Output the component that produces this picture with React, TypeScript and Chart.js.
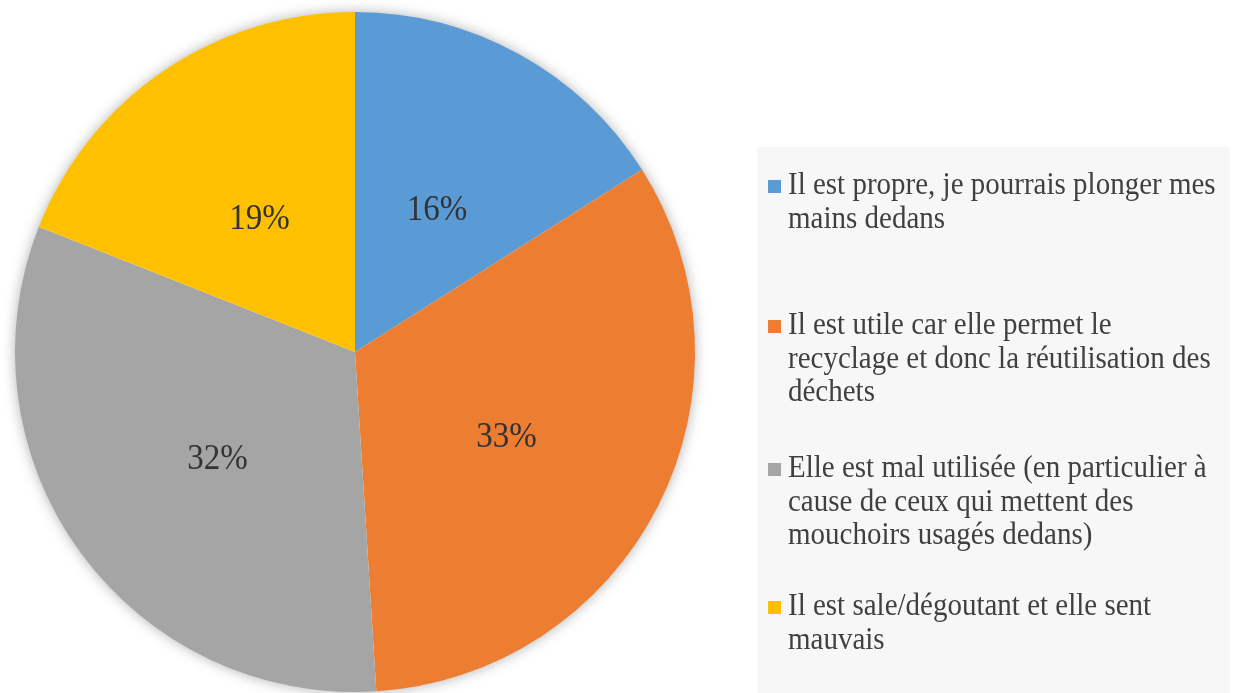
import React, { useEffect, useRef } from "react";
import { Chart, registerables } from "chart.js";

Chart.register(...registerables);

const categories: string[][] = [
  ["Il est propre, je pourrais plonger mes", "mains dedans"],
  ["Il est utile car elle permet le", "recyclage et donc la réutilisation des", "déchets"],
  ["Elle est mal utilisée (en particulier à", "cause de ceux qui mettent des", "mouchoirs usagés dedans)"],
  ["Il est sale/dégoutant et elle sent", "mauvais"],
];
const values: number[] = [16, 33, 32, 19];
const colors: string[] = ["#5B9BD5", "#ED7D31", "#A5A5A5", "#FFC000"];

const FONT = "'Liberation Serif', 'Times New Roman', serif";

const shadowPlugin = {
  id: "pieShadow",
  beforeDatasetsDraw(chart: any) {
    const meta = chart.getDatasetMeta(0);
    const arc = meta.data[0];
    if (!arc) return;
    const { x, y, outerRadius } = arc.getProps(["x", "y", "outerRadius"], true);
    const ctx = chart.ctx;
    ctx.save();
    ctx.shadowColor = "rgba(0,0,0,0.35)";
    ctx.shadowBlur = 14;
    ctx.fillStyle = "#ffffff";
    ctx.beginPath();
    ctx.arc(x, y, outerRadius - 1, 0, Math.PI * 2);
    ctx.fill();
    ctx.restore();
  },
};

const labelPlugin = {
  id: "pieLabels",
  afterDatasetsDraw(chart: any) {
    const ctx = chart.ctx;
    const meta = chart.getDatasetMeta(0);
    const data = chart.data.datasets[0].data as number[];
    ctx.save();
    ctx.font = `33px ${FONT}`;
    ctx.fillStyle = "#333333";
    ctx.textAlign = "center";
    ctx.textBaseline = "middle";
    meta.data.forEach((el: any, i: number) => {
      const p = el.tooltipPosition();
      ctx.save();
      ctx.translate(p.x, p.y + 8);
      ctx.scale(1, 1.08);
      ctx.fillText(`${data[i]}%`, 0, 0);
      ctx.restore();
    });
    ctx.restore();
  },
};

const legendPlugin = {
  id: "sideLegend",
  afterDraw(chart: any) {
    const ctx = chart.ctx;
    ctx.save();
    ctx.fillStyle = "#f7f7f7";
    ctx.fillRect(757, 147, 473, 546);
    ctx.font = `29px ${FONT}`;
    ctx.textBaseline = "middle";
    ctx.textAlign = "left";
    const lineH = 33.5;
    const starts = [186, 326, 469, 607];
    categories.forEach((lines, i) => {
      const y0 = starts[i];
      ctx.fillStyle = colors[i];
      ctx.fillRect(768, y0 - 6, 13, 13);
      ctx.fillStyle = "#404040";
      lines.forEach((t, j) => {
        ctx.save();
        ctx.translate(788, y0 + j * lineH);
        ctx.scale(1, 1.1);
        ctx.fillText(t, 0, 0);
        ctx.restore();
      });
    });
    ctx.restore();
  },
};

export default function App() {
  const ref = useRef<HTMLCanvasElement | null>(null);
  useEffect(() => {
    if (!ref.current) return;
    const chart = new Chart(ref.current, {
      type: "pie",
      data: {
        labels: categories.map((l) => l.join(" ")),
        datasets: [
          {
            data: values,
            backgroundColor: colors,
            borderWidth: 0,
          },
        ],
      },
      options: {
        animation: false,
        responsive: false,
        layout: { padding: { left: 15, right: 541, top: 12, bottom: 1 } },
        plugins: {
          legend: { display: false },
          tooltip: { enabled: false },
        },
      },
      plugins: [shadowPlugin, labelPlugin, legendPlugin],
    });
    return () => chart.destroy();
  }, []);
  return (
    <div style={{ position: "fixed", left: 0, top: 0, width: 1236, height: 693, background: "#fff" }}>
      <canvas ref={ref} width={1236} height={693} style={{ width: 1236, height: 693, display: "block" }} />
    </div>
  );
}
